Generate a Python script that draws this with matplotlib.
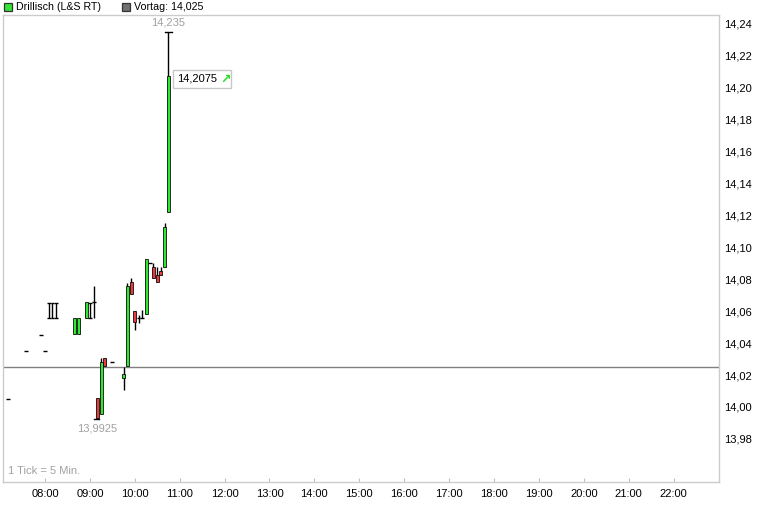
import matplotlib
matplotlib.use("Agg")
import matplotlib.pyplot as plt
import matplotlib.transforms as mtransforms
from matplotlib.patches import Rectangle
from matplotlib.ticker import FixedLocator, FuncFormatter

plt.rcParams['font.family'] = ['Liberation Sans', 'DejaVu Sans']

# ---- data (5-minute candles) ----
times = ["07:10", "07:35", "07:55", "08:00", "08:05", "08:10", "08:15", "08:40", "08:45",
         "08:55", "09:00", "09:05", "09:10", "09:15", "09:20", "09:30", "09:45", "09:50",
         "09:55", "10:00", "10:05", "10:10", "10:15", "10:20", "10:25", "10:30", "10:35",
         "10:40", "10:45"]
opens = [14.005, 14.035, 14.045, 14.035, 14.065, 14.065, 14.065, 14.046, 14.046,
         14.0555, 14.065, 14.0655, 14.0056, 13.9956, 14.0307, 14.028, 14.018, 14.0256,
         14.0783, 14.0601, 14.0557, 14.0557, 14.0582, 14.0902, 14.0877, 14.0827, 14.0852,
         14.0877, 14.1221]
highs = [14.005, 14.035, 14.045, 14.035, 14.065, 14.065, 14.065, 14.056, 14.056,
         14.0655, 14.065, 14.076, 14.0056, 14.0307, 14.0307, 14.028, 14.025, 14.0776,
         14.0808, 14.0601, 14.0576, 14.0607, 14.0927, 14.0902, 14.0902, 14.0877, 14.0877,
         14.1152, 14.235]
lows = [14.005, 14.035, 14.045, 14.035, 14.0557, 14.0557, 14.0557, 14.046, 14.046,
        14.0555, 14.0557, 14.0557, 13.9925, 13.9956, 14.0256, 14.028, 14.0106, 14.0256,
        14.0708, 14.0482, 14.0526, 14.0557, 14.0582, 14.0902, 14.0808, 14.0783, 14.0827,
        14.0877, 14.1221]
closes = [14.005, 14.035, 14.045, 14.035, 14.0557, 14.0557, 14.0557, 14.056, 14.056,
          14.0655, 14.0557, 14.0655, 13.993, 14.0281, 14.0256, 14.028, 14.0206, 14.0758,
          14.0708, 14.0532, 14.0557, 14.0557, 14.0927, 14.0902, 14.0808, 14.0783, 14.0827,
          14.1127, 14.2075]
kinds = ["flat", "flat", "flat", "flat", "flat", "flat", "flat", "up", "up",
         "up", "flat", "flat", "down", "up", "down", "flat", "up", "up",
         "down", "down", "flat", "flat", "up", "flat", "down", "down", "down",
         "up", "up"]

prev_close = 14.025
day_high = 14.235
day_low = 13.9925
last_price = 14.2075
hour_labels = ["08:00", "09:00", "10:00", "11:00", "12:00", "13:00", "14:00", "15:00",
               "16:00", "17:00", "18:00", "19:00", "20:00", "21:00", "22:00"]
y_ticks = [13.98, 14.00, 14.02, 14.04, 14.06, 14.08, 14.10, 14.12, 14.14, 14.16,
           14.18, 14.20, 14.22, 14.24]


def to_min(s):
    h, m = s.split(":")
    return int(h) * 60 + int(m)


W, H = 760, 517
fig = plt.figure(figsize=(W / 100, H / 100), dpi=100)
ax_l, ax_r, ax_t, ax_b = 2.7, 719, 15, 482
ax = fig.add_axes([ax_l / W, 1 - ax_b / H, (ax_r - ax_l) / W, (ax_b - ax_t) / H])

GREEN = "#33e633"
RED = "#e83c3c"
body_w = 4.0
cap_w = 2.6

ax.axhline(prev_close, color="#808080", lw=1.0, zorder=1)

for t, o, h, l, c, k in zip(times, opens, highs, lows, closes, kinds):
    x = to_min(t)
    if h > l:
        ax.plot([x, x], [l, h], color="black", lw=1.0, zorder=2, solid_capstyle="butt")
    if k == "flat":
        for v in sorted(set([o, c])):
            ax.plot([x - cap_w, x + cap_w], [v, v], color="black", lw=1.0, zorder=3,
                    solid_capstyle="butt")
    else:
        lo, hi = min(o, c), max(o, c)
        ax.add_patch(Rectangle((x - body_w / 2, lo), body_w, hi - lo,
                               facecolor=GREEN if k == "up" else RED,
                               edgecolor="black", lw=0.55, zorder=3))

# day high / low markers
hi_idx = highs.index(day_high)
lo_idx = lows.index(day_low)
xh = to_min(times[hi_idx])
xl = to_min(times[lo_idx])
ax.plot([xh - 5, xh + 5], [day_high, day_high], color="black", lw=1.0, zorder=3)
ax.plot([xl - 4.5, xl + 2.5], [day_low, day_low], color="black", lw=1.0, zorder=3)
ax.annotate(f"{day_high:.3f}".replace(".", ","), (xh, day_high), xytext=(0, 3),
            textcoords="offset points", ha="center", va="bottom", color="#a0a0a0", fontsize=8)
ax.annotate(f"{day_low:.4f}".replace(".", ","), (xl, day_low), xytext=(0, -3),
            textcoords="offset points", ha="center", va="top", color="#a0a0a0", fontsize=8)

# last price box
x_last = to_min(times[-1])
box_trans = fig.dpi_scale_trans + mtransforms.ScaledTranslation(x_last, last_price, ax.transData)
ax.add_patch(Rectangle((0.045, -0.12), 0.58, 0.18, transform=box_trans, facecolor="white",
                       edgecolor="#c8c8c8", lw=1.0, zorder=5, clip_on=False))
ax.annotate(f"{last_price:.4f}".replace(".", ","), (x_last, last_price),
            xytext=(6, -2.2), textcoords="offset points", ha="left", va="center",
            fontsize=8, color="black", zorder=6)
ax.annotate("\u2197", (x_last, last_price), xytext=(37, -2.2), textcoords="offset points",
            ha="left", va="center", fontsize=9, color="#22dd22", fontweight="bold",
            family=["DejaVu Sans"], zorder=6)

ax.text(0.007, 0.012, "1 Tick = 5 Min.", transform=ax.transAxes, fontsize=8,
        color="#a0a0a0", ha="left", va="bottom")

# axes setup
ax.set_xlim(423.5, 1380.7)
ax.set_ylim(13.953, 14.2456)
ax.xaxis.set_major_locator(FixedLocator([to_min(s) for s in hour_labels]))
ax.set_xticklabels(hour_labels)
ax.yaxis.tick_right()
ax.yaxis.set_major_locator(FixedLocator(y_ticks))
ax.yaxis.set_major_formatter(FuncFormatter(lambda v, p: f"{v:.2f}".replace(".", ",")))
ax.tick_params(axis="y", length=0, pad=4, labelsize=8, colors="black")
ax.tick_params(axis="x", length=3, direction="in", pad=5, labelsize=8, color="#c0c0c0",
               labelcolor="black")
for s in ax.spines.values():
    s.set_color("#cccccc")
    s.set_linewidth(1.0)

# legend
def sq(x, y, fc):
    fig.patches.append(Rectangle((x / W, 1 - (y + 8) / H), 8 / W, 8 / H, facecolor=fc,
                                 edgecolor="#333333", lw=0.9, transform=fig.transFigure))

sq(4, 3, GREEN)
fig.text(16 / W, 1 - 7.5 / H, "Drillisch (L&S RT)", fontsize=7.7, va="center", ha="left")
sq(122, 3, "#707070")
fig.text(134 / W, 1 - 7.5 / H, "Vortag: " + f"{prev_close:.3f}".replace(".", ","),
         fontsize=7.7, va="center", ha="left")

fig.savefig("out.png", dpi=100)
